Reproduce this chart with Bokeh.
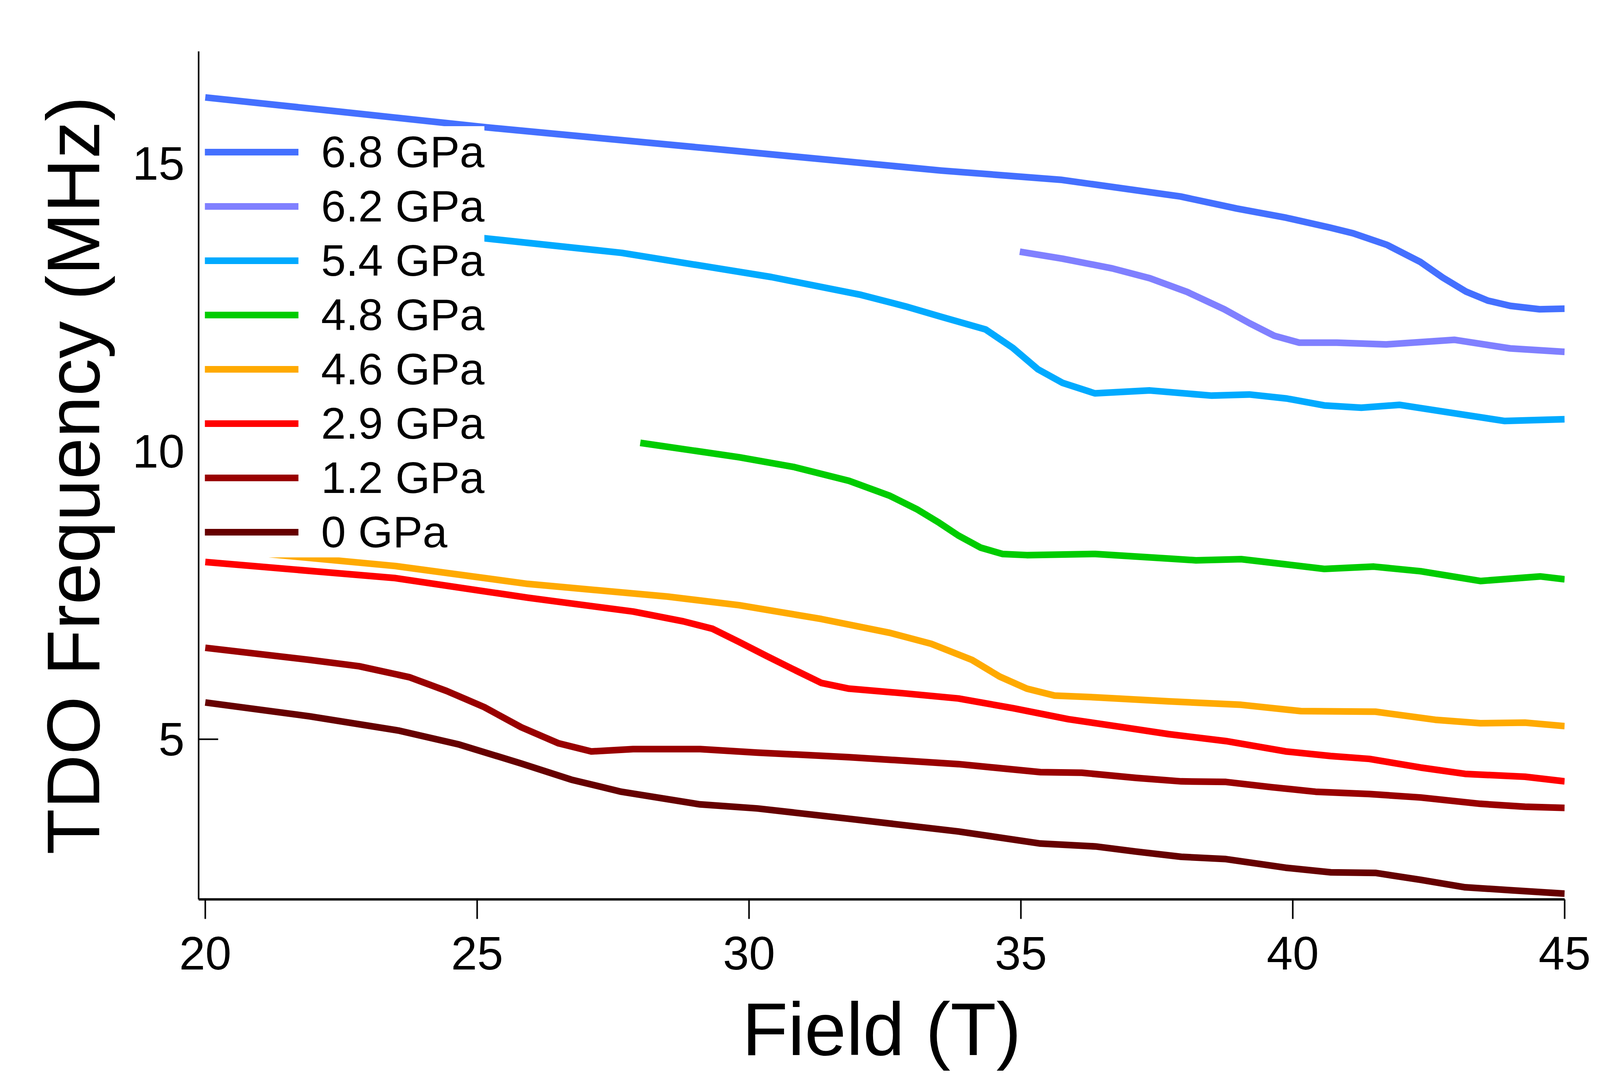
from bokeh.plotting import figure
from bokeh.models import Range1d, FixedTicker, LinearAxis, Legend, LegendItem
from bokeh.embed import file_html
from bokeh.resources import INLINE

# ---- data ----
labels = ["6.8 GPa", "6.2 GPa", "5.4 GPa", "4.8 GPa", "4.6 GPa", "2.9 GPa", "1.2 GPa", "0 GPa"]
colors = ["#4470ff", "#8080ff", "#00aaff", "#00cc00", "#ffaa00", "#ff0000", "#990000", "#660000"]

x68 = [20, 22.5, 25.17, 29.31, 33.53, 35.73, 37.93, 38.97, 39.88, 40.68, 41.11, 41.73, 42.35, 42.76,
       43.18, 43.59, 44.0, 44.54, 45]
y68 = [16.15, 15.9, 15.63, 15.26, 14.88, 14.72, 14.43, 14.22, 14.06, 13.89, 13.79, 13.59, 13.29, 13.02,
       12.78, 12.62, 12.53, 12.47, 12.48]

x62 = [34.98, 35.76, 36.68, 37.37, 38.06, 38.74, 39.2, 39.66, 40.12, 40.81, 41.72, 42.97, 44.0, 45]
y62 = [13.47, 13.35, 13.18, 13.01, 12.77, 12.47, 12.23, 12.01, 11.89, 11.89, 11.86, 11.94, 11.79, 11.73]

x54 = [20, 25.17, 27.66, 30.41, 32.06, 32.88, 33.53, 34.35, 34.85, 35.31, 35.77, 36.36, 37.37, 38.51,
       39.2, 39.89, 40.58, 41.26, 41.96, 42.79, 43.89, 45]
y54 = [14.2, 13.70, 13.45, 13.03, 12.72, 12.52, 12.34, 12.12, 11.80, 11.43, 11.19, 11.01, 11.06, 10.97,
       10.99, 10.92, 10.80, 10.76, 10.81, 10.69, 10.53, 10.56]

x48 = [28.0, 29.82, 30.83, 31.84, 32.59, 33.1, 33.5, 33.85, 34.26, 34.66, 35.11, 36.37, 37.72, 38.22,
       39.05, 39.87, 40.58, 41.49, 42.35, 43.45, 44.55, 45]
y48 = [10.15, 9.90, 9.73, 9.49, 9.23, 8.99, 8.76, 8.54, 8.33, 8.22, 8.20, 8.22, 8.14, 8.11,
       8.13, 8.04, 7.96, 8.00, 7.92, 7.75, 7.83, 7.78]

x46 = [20, 20.92, 23.5, 25.93, 28.5, 29.82, 31.33, 32.59, 33.35, 34.1, 34.61, 35.11, 35.62, 36.37,
       37.72, 39.05, 40.15, 41.52, 42.62, 43.45, 44.27, 45]
y46 = [8.32, 8.24, 8.01, 7.70, 7.48, 7.33, 7.09, 6.85, 6.66, 6.38, 6.09, 5.88, 5.76, 5.73,
       5.66, 5.60, 5.49, 5.48, 5.34, 5.28, 5.29, 5.23]

x29 = [20, 23.5, 25.93, 26.73, 27.87, 28.79, 29.33, 29.82, 30.32, 30.83, 31.33, 31.84, 32.84, 33.85,
       34.86, 35.87, 36.88, 37.72, 38.77, 39.87, 40.7, 41.41, 42.35, 43.17, 44.27, 45]
y29 = [8.08, 7.80, 7.46, 7.36, 7.22, 7.05, 6.92, 6.69, 6.45, 6.21, 5.98, 5.88, 5.80, 5.71,
       5.54, 5.35, 5.21, 5.09, 4.97, 4.79, 4.71, 4.66, 4.51, 4.40, 4.35, 4.27]

x12 = [20, 21.92, 22.83, 23.75, 24.44, 25.13, 25.81, 26.5, 27.1, 27.87, 29.1, 30.15, 31.84, 33.85,
       35.36, 36.12, 37.12, 37.95, 38.77, 39.6, 40.42, 41.41, 42.35, 43.45, 44.27, 45]
y12 = [6.59, 6.38, 6.27, 6.08, 5.84, 5.56, 5.21, 4.93, 4.79, 4.83, 4.83, 4.77, 4.69, 4.57,
       4.43, 4.42, 4.33, 4.27, 4.26, 4.17, 4.09, 4.05, 3.99, 3.88, 3.83, 3.81]

x0 = [20, 21.92, 23.57, 24.67, 25.81, 26.73, 27.65, 29.1, 30.15, 31.84, 33.85, 35.36, 36.37, 37.12,
      37.95, 38.77, 39.87, 40.7, 41.52, 42.35, 43.17, 44.0, 45]
y0 = [5.64, 5.40, 5.15, 4.91, 4.58, 4.30, 4.09, 3.87, 3.80, 3.62, 3.40, 3.19, 3.14, 3.05,
      2.96, 2.92, 2.77, 2.69, 2.68, 2.56, 2.43, 2.38, 2.32]

x_ticks = [20, 25, 30, 35, 40, 45]
y_ticks = [5, 10, 15]

series = [(x68, y68), (x62, y62), (x54, y54), (x48, y48), (x46, y46), (x29, y29), (x12, y12), (x0, y0)]

FONT = "Liberation Sans"
INK = "black"

p = figure(frame_width=3497, frame_height=2171,
           x_range=Range1d(19.878, 45.0), y_range=Range1d(2.22, 16.95),
           output_backend="svg", toolbar_location=None, y_axis_location=None,
           min_border_left=508, min_border_right=299, min_border_top=131, min_border_bottom=452)
p.grid.visible = False
p.outline_line_color = None
p.background_fill_color = "white"
p.border_fill_color = "white"

# x axis
xa = p.xaxis[0]
xa.ticker = FixedTicker(ticks=x_ticks)
xa.minor_tick_line_color = None
xa.major_tick_out = 50
xa.major_tick_in = 0
xa.major_tick_line_width = 4
xa.major_tick_line_color = INK
xa.axis_line_width = 6
xa.axis_line_color = INK
xa.major_label_text_font = FONT
xa.major_label_text_font_size = "120px"
xa.major_label_text_color = INK
xa.major_label_standoff = 46
xa.axis_label = "Field (T)"
xa.axis_label_text_font = FONT
xa.axis_label_text_font_size = "192px"
xa.axis_label_text_font_style = "normal"
xa.axis_label_text_color = INK
xa.axis_label_standoff = 42

# inner y axis: only the inward tick at 5 (ticks at 10 and 15 are hidden behind the legend in the reference)
ya_ticks = LinearAxis(ticker=FixedTicker(ticks=[5]), major_tick_in=50, major_tick_out=0,
                      major_tick_line_width=4, major_tick_line_color=INK,
                      axis_line_color=None, minor_tick_line_color=None,
                      major_label_overrides={5: ""}, major_label_standoff=0,
                      major_label_text_font_size="1px")
p.add_layout(ya_ticks, "left")

# main y axis with line, labels and title
ya = LinearAxis(ticker=FixedTicker(ticks=y_ticks), major_tick_in=0, major_tick_out=0,
                minor_tick_line_color=None, axis_line_width=4, axis_line_color=INK)
ya.major_label_text_font = FONT
ya.major_label_text_font_size = "120px"
ya.major_label_text_color = INK
ya.major_label_standoff = 36
ya.axis_label = "TDO Frequency (MHz)"
ya.axis_label_text_font = FONT
ya.axis_label_text_font_size = "192px"
ya.axis_label_text_font_style = "normal"
ya.axis_label_text_color = INK
ya.axis_label_standoff = 41
p.add_layout(ya, "left")

items = []
for (xs, ys), c, lab in zip(series, colors, labels):
    r = p.line(xs, ys, line_color=c, line_width=17, line_join="round")
    items.append(LegendItem(label=lab, renderers=[r]))

legend = Legend(items=items, location=(16, 875), margin=0,
                background_fill_color="white", background_fill_alpha=1.0,
                border_line_color=None,
                label_text_font=FONT, label_text_font_size="114px", label_text_color=INK,
                glyph_width=240, glyph_height=130, label_height=130,
                spacing=8, padding=8, label_standoff=58)
p.add_layout(legend)

open("out.html", "w").write(file_html(p, INLINE))
